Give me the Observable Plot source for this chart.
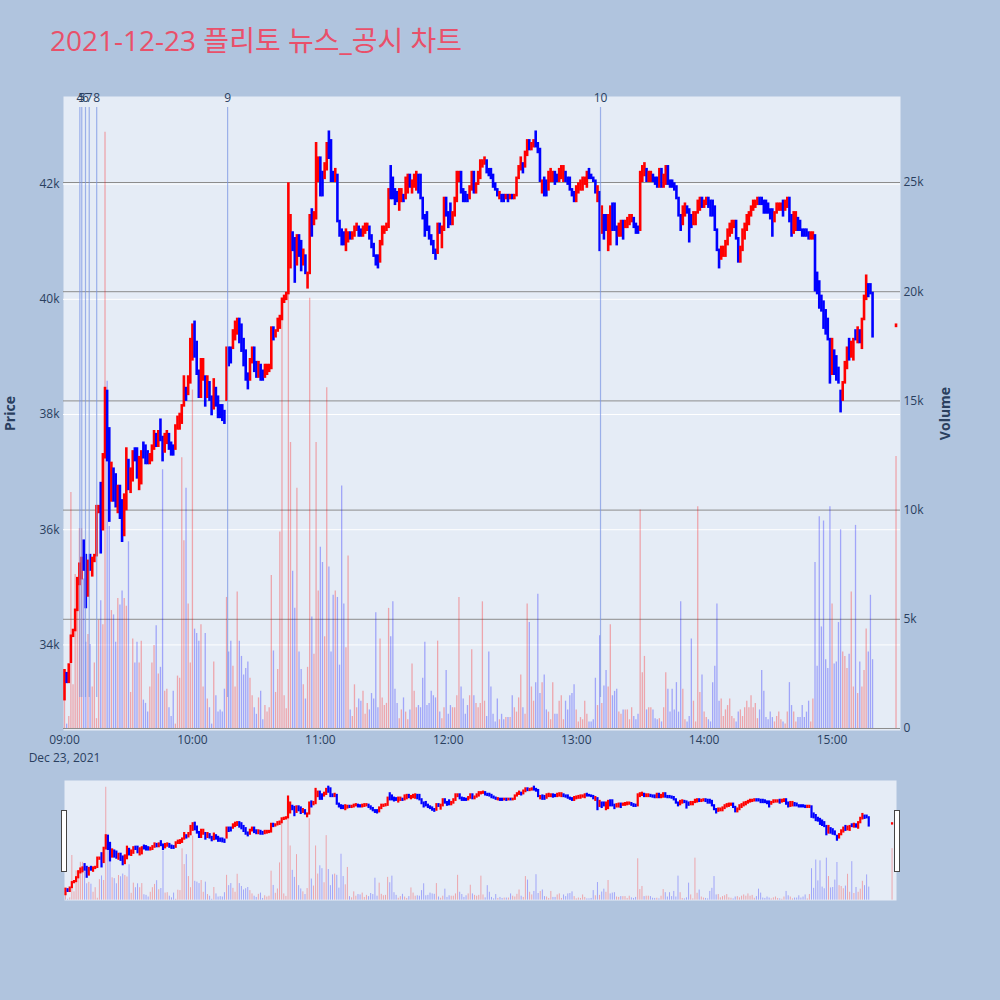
<!DOCTYPE html>
<html>
<head>
<meta charset="utf-8">
<script src="https://cdn.jsdelivr.net/npm/d3@7"></script>
<script src="https://cdn.jsdelivr.net/npm/@observablehq/plot@0.6"></script>
<style>
  html, body { margin: 0; padding: 0; background: #B0C4DE; }
  #wrap { position: relative; width: 1000px; height: 1000px; background: #B0C4DE; overflow: hidden;
          font-family: 'Open Sans', 'Noto Sans CJK KR', sans-serif; }
  #wrap svg { position: absolute; left: 0; }
  .title { position: absolute; left: 50px; top: 26px; font-size: 28px; line-height: 28px; color: #e9506a; white-space: nowrap; }
  .grab { position: absolute; width: 4px; height: 60px; background: #ffffff; border: 1px solid #444; box-sizing: content-box; }
</style>
</head>
<body>
<div id="wrap">
  <div class="title">2021-12-23 플리토 뉴스_공시 차트</div>
</div>
<script>
// ---- data: one candle per minute from 09:00 (index = minutes after 09:00) ----
const opens = [
  33050,33500,33350,33700,34150,34250,34600,35050,35150,35800,
  35550,34850,35550,35200,35450,35550,36300,36800,36000,37250,
  38400,37750,36500,37050,36950,36300,36750,36500,35900,36350,
  37200,36650,36850,37400,37400,36700,36800,37500,37450,37350,
  37150,37200,37400,37650,37450,37900,37600,37350,37500,37650,
  37500,37450,37400,37750,37750,37850,38150,38450,38350,38550,
  38950,39600,39250,38750,38300,38600,38650,38300,38550,38300,
  38100,38450,38300,38150,38150,38050,38250,39150,39150,39150,
  39300,39400,39650,39550,39300,39100,38700,38600,38900,39150,
  38900,38650,38850,38750,38650,38700,38750,38800,39500,39350,
  39450,39500,39650,39950,40000,40100,40550,41150,41050,40600,
  41100,41000,40600,40750,40200,40450,41550,41300,41400,42050,
  42450,42200,42100,42250,42900,42750,42200,42050,42150,41350,
  41200,41150,40850,41000,41150,41050,41100,41200,41250,41200,
  41100,41150,41200,41250,41100,40950,40750,40750,40650,40950,
  41150,41200,41250,42300,42100,41900,41850,41550,41700,41800,
  41750,41850,42150,41850,41950,41900,42150,42150,41750,41450,
  41500,41250,41100,41000,40850,40800,41300,40900,41200,41750,
  41500,41650,41300,41450,41700,42050,42200,41900,41850,41800,
  41750,41900,42200,41850,42000,42100,42300,42350,42400,42250,
  42250,42150,42000,41900,41750,41800,41800,41750,41800,41750,
  41800,41750,41800,42100,42250,42350,42300,42500,42750,42600,
  42650,42900,42700,42600,41850,42100,42050,41900,42050,42050,
  42200,42150,42050,42100,42050,42200,42100,42100,41900,41850,
  41700,41850,41900,41900,42000,41950,42250,42150,42100,42050,
  41700,41850,41150,41450,41450,40850,40950,41650,41650,41250,
  41100,41100,41350,41250,41250,41300,41350,41400,41300,41250,
  41200,42050,42150,42250,42050,42050,42150,42100,42100,41950,
  42250,41950,42000,42300,42050,42050,42000,41950,41750,41450,
  41300,41450,41600,41550,41450,41300,41300,41500,41550,41750,
  41600,41650,41750,41700,41700,41600,41200,40850,40700,40750,
  40750,40950,41100,41150,41250,41350,41050,40650,40850,41050,
  41200,41300,41450,41550,41600,41650,41750,41750,41700,41700,
  41650,41550,41550,41350,41500,41550,41550,41700,41550,41600,
  41750,41450,41150,41200,41400,41350,41200,41200,41200,41150,
  41050,41050,41100,40450,40300,40050,39950,39800,39650,39300,
  38700,39100,39000,38800,38400,38250,38550,38800,39300,39000,
  38950,39450,39250,39450,39150,39650,40000,40250,40250,40100
];
const closes = [
  33550,33350,33650,34150,34250,34600,35150,35400,35500,35300,
  34650,35450,35300,35500,35550,36400,36400,35600,37300,38450,
  37200,36150,37150,36500,36400,36750,36200,35800,36600,37400,
  36700,37050,37350,37200,36900,37250,37350,37250,37150,37150,
  37300,37450,37700,37450,37700,37550,37200,37650,37700,37400,
  37300,37300,37800,37950,38000,38150,38650,38250,38650,39300,
  39550,39000,38700,38300,38950,38950,38150,38650,38250,38000,
  38600,38150,37950,37950,37900,37850,39150,38850,38900,39450,
  39600,39650,39250,39100,38850,38600,38450,38950,39150,38750,
  38650,38900,38600,38600,38850,38850,38850,39500,39300,39450,
  39650,39700,40000,40050,40100,42000,41450,40850,40300,41100,
  40750,40500,40850,40450,40450,41450,41100,41500,42700,42450,
  41800,41800,42350,42700,42450,42050,42050,42250,41350,41100,
  40950,40950,41200,41150,41050,41150,41250,41300,41100,41100,
  41250,41300,41300,41050,40900,40750,40600,40550,41000,41250,
  41250,41300,41900,41750,41750,41650,41700,41900,41900,41700,
  42100,42150,41950,42050,42150,42200,41850,41750,41400,41100,
  41200,41050,40950,40800,40700,41300,41150,41250,41750,41450,
  41250,41300,41500,41750,42200,42200,41850,41700,41700,41700,
  41950,42200,41850,42000,42200,42400,42400,42450,42200,42150,
  42100,41950,41900,41800,41850,41700,41700,41800,41700,41800,
  41750,41800,42100,42300,42450,42200,42550,42750,42600,42700,
  42750,42650,42550,42050,42050,41800,41800,42200,42250,42200,
  42000,42050,42250,42300,42300,42050,42000,41900,41800,41700,
  41950,42000,42050,42100,42100,42200,42100,42100,42050,41850,
  41950,40850,41600,41050,41200,41450,41600,41200,41200,40950,
  41300,41350,41050,41350,41400,41450,41450,41250,41150,41150,
  42200,42300,42350,42050,42200,42200,42050,42000,41950,42250,
  41950,42150,42300,42000,41950,41950,41900,41750,41450,41200,
  41600,41650,41500,41000,41250,41500,41500,41700,41750,41600,
  41700,41750,41600,41450,41450,41200,40850,40550,40900,40900,
  41000,41200,41300,41350,41350,41050,40650,40900,41200,41300,
  41450,41500,41600,41700,41700,41750,41650,41650,41500,41500,
  41500,41400,41100,41500,41650,41650,41650,41450,41700,41750,
  41350,41100,41500,41500,41200,41200,41100,41100,41100,41050,
  41150,41150,40150,40100,39850,39800,39500,39400,39300,38550,
  39300,38700,38600,38550,38050,38550,38900,39150,38950,39250,
  39300,39300,39500,39250,39650,40050,40400,40050,40100,39350
];
const volumes = [
  1350,200,550,10800,2000,7050,6800,9150,9150,6850,
  3950,4300,3850,1900,3000,450,4950,5850,4750,27300,
  15900,9250,5400,5200,3950,5950,5650,6300,5950,5600,
  8550,1650,4100,3000,3950,3000,4000,1300,1150,750,
  1900,3000,3800,4700,2500,2800,11850,1700,1800,950,
  550,1700,200,2400,2300,12400,8600,11000,5700,3000,
  15500,4550,4350,4000,4750,1900,4350,1350,950,200,
  3050,1500,750,850,750,1800,6000,3500,4000,2850,
  1900,6250,4000,3300,2450,2750,3050,2300,1500,950,
  650,1400,1700,400,1050,750,950,7000,3550,1650,
  2700,9000,19700,1500,900,24900,13100,7200,5500,11000,
  3500,2700,2000,1350,2800,19700,5100,3400,13100,6300,
  8300,7600,4200,15600,7400,3500,6100,6300,6000,2900,
  11100,5700,3700,7900,850,550,2000,950,1350,1250,
  1700,650,1150,850,1600,1350,5300,950,4100,1400,
  1050,1150,5500,4200,5800,1800,1150,450,850,1400,
  750,400,850,2950,1700,950,1050,950,2300,3950,
  1050,1150,1700,1500,1400,4000,750,450,950,2650,
  650,1050,950,950,1500,6000,1900,1350,650,1050,
  1500,3600,1500,1150,950,1150,5800,1250,550,3500,
  1900,650,300,1350,400,650,400,500,500,500,
  1500,950,750,1400,2450,950,650,5700,4850,1900,
  1250,2100,6150,1600,2100,2450,850,750,400,2100,
  650,650,1250,1500,400,1250,850,1500,1600,2000,
  850,300,500,400,1250,650,300,300,400,2300,
  1050,4250,1150,1950,2650,1900,4750,1500,1700,1800,
  750,650,850,850,850,400,950,550,400,650,
  10000,2550,3300,850,950,950,850,450,400,450,
  300,950,2550,1800,750,1800,850,2100,750,5800,
  1800,400,300,550,4100,1250,300,10150,1650,2450,
  750,500,400,300,2100,2850,5700,1250,1350,550,
  850,1050,1350,550,450,300,750,850,550,950,
  1250,950,1500,950,1150,450,850,2650,1700,500,
  400,750,500,300,550,750,400,300,200,750,
  2100,1050,750,300,500,500,1050,500,750,1250,
  300,1350,7600,2850,9700,4650,9500,3150,2750,10150,
  5700,2950,3050,4850,9100,3500,3300,2750,3400,6250,
  1900,9300,1600,3050,1900,2650,4550,3500,6100,3150
];
// closing auction print at 15:30
const auctionMinute = 390, auctionOpen = 39530, auctionClose = 39550, auctionVolume = 12450;

// news / disclosure markers (minutes after 09:00) and their labels
const newsMinutes = [7.2, 8.1, 9.85, 11.6, 15.1, 76.5, 251.4];
const newsLabels  = ["4", "5", "6", "7", "8", "9", "10"];

// axes
const priceTicks  = [34000, 36000, 38000, 40000, 42000];
const volumeTicks = [0, 5000, 10000, 15000, 20000, 25000];
const hourTicks   = [9, 10, 11, 12, 13, 14, 15];
const priceDomain  = [32514, 43521];
const volumeDomain = [-92, 28938];
const newsSpan = [33085, 43330];   // vertical extent of marker lines (price units)
const newsLabelY = 43500;

// ---- build ----
const BASE = Date.UTC(2021, 11, 23, 9, 0, 0);
const at = m => new Date(BASE + m * 60000);
const bars = opens.map((o, i) => ({time: at(i), open: o, close: closes[i], volume: volumes[i]}));
bars.push({time: at(auctionMinute), open: auctionOpen, close: auctionClose, volume: auctionVolume});
const news = newsMinutes.map((m, i) => ({time: at(m), label: newsLabels[i]}));
const hours = hourTicks.map(h => new Date(Date.UTC(2021, 11, 23, h, 0, 0)));
const dir = d => d.close >= d.open ? "#ff0000" : "#0000ff";
const fmtK = d => d === 0 ? "0" : (d / 1000) + "k";
const xDomain = [at(-0.47), at(392.1)];
const FONT = "'Open Sans', 'Noto Sans CJK KR', sans-serif";
const INK = "#2a3f5f";

const common = {
  width: 1000, height: 780, marginTop: 96, marginBottom: 50, marginLeft: 63, marginRight: 100,
  style: {background: "transparent", fontFamily: FONT, fontSize: "12px", color: INK, overflow: "visible"}
};

const bg = Plot.plot({
  ...common,
  x: {type: "utc", domain: xDomain, axis: null},
  y: {domain: priceDomain, axis: null},
  marks: [
    Plot.frame({fill: "#E5ECF6", stroke: "none"}),
    Plot.ruleY(priceTicks, {stroke: "#ffffff", strokeWidth: 1})
  ]
});

const vol = Plot.plot({
  ...common,
  x: {type: "utc", domain: xDomain, axis: null},
  y: {domain: volumeDomain, axis: null},
  marks: [
    Plot.ruleY(volumeTicks, {stroke: "#8c8c8c", strokeWidth: 1}),
    Plot.ruleX(bars, {x: "time", y1: 0, y2: "volume", stroke: dir, strokeOpacity: 0.3, strokeWidth: 1.3}),
    Plot.axisY({anchor: "right", ticks: volumeTicks, tickFormat: fmtK, tickSize: 0, tickPadding: 3, label: null}),
    Plot.text(["Volume"], {frameAnchor: "right", dx: 45, rotate: -90, textAnchor: "middle", fontWeight: "bold", fontSize: 14, fill: INK})
  ]
});

const price = Plot.plot({
  ...common,
  x: {type: "utc", domain: xDomain},
  y: {domain: priceDomain},
  marks: [
    Plot.ruleX(bars, {x: "time", y1: "open", y2: "close", stroke: dir, strokeWidth: 2.6, strokeLinecap: "square"}),
    Plot.ruleX(news, {x: "time", y1: newsSpan[0], y2: newsSpan[1], stroke: "#7b96e4", strokeOpacity: 0.7, strokeWidth: 1.2}),
    Plot.text(news, {x: "time", y: newsLabelY, text: "label", fill: INK, fontSize: 12}),
    Plot.axisY({anchor: "left", ticks: priceTicks, tickFormat: fmtK, tickSize: 0, tickPadding: 4, label: null}),
    Plot.axisX({ticks: hours, tickFormat: d3.utcFormat("%H:%M"), tickSize: 0, tickPadding: 5, label: null}),
    Plot.text(["Dec 23, 2021"], {x: [at(0)], frameAnchor: "bottom", dy: 31, fill: INK, fontSize: 12}),
    Plot.text(["Price"], {frameAnchor: "left", dx: -53, rotate: -90, textAnchor: "middle", fontWeight: "bold", fontSize: 14, fill: INK})
  ]
});

const sCommon = {
  width: 1000, height: 120, marginTop: 0, marginBottom: 0, marginLeft: 64, marginRight: 104,
  style: {background: "transparent", fontFamily: FONT, fontSize: "12px", color: INK, overflow: "visible"}
};
const sVol = Plot.plot({
  ...sCommon,
  x: {type: "utc", domain: xDomain, axis: null},
  y: {domain: volumeDomain, axis: null},
  marks: [
    Plot.frame({fill: "#E5ECF6", stroke: "none"}),
    Plot.ruleX(bars, {x: "time", y1: 0, y2: "volume", stroke: dir, strokeOpacity: 0.3, strokeWidth: 1})
  ]
});
const sPrice = Plot.plot({
  ...sCommon,
  x: {type: "utc", domain: xDomain, axis: null},
  y: {domain: priceDomain, axis: null},
  marks: [
    Plot.ruleX(bars, {x: "time", y1: "open", y2: "close", stroke: dir, strokeWidth: 2.2, strokeLinecap: "square"})
  ]
});

const wrap = document.getElementById("wrap");
for (const [svg, top] of [[bg, 0], [vol, 0], [price, 0], [sVol, 780], [sPrice, 780]]) {
  svg.style.top = top + "px";
  wrap.appendChild(svg);
}
for (const left of [61, 894]) {
  const g = document.createElement("div");
  g.className = "grab";
  g.style.left = left + "px";
  g.style.top = "810px";
  wrap.appendChild(g);
}
</script>
</body>
</html>
